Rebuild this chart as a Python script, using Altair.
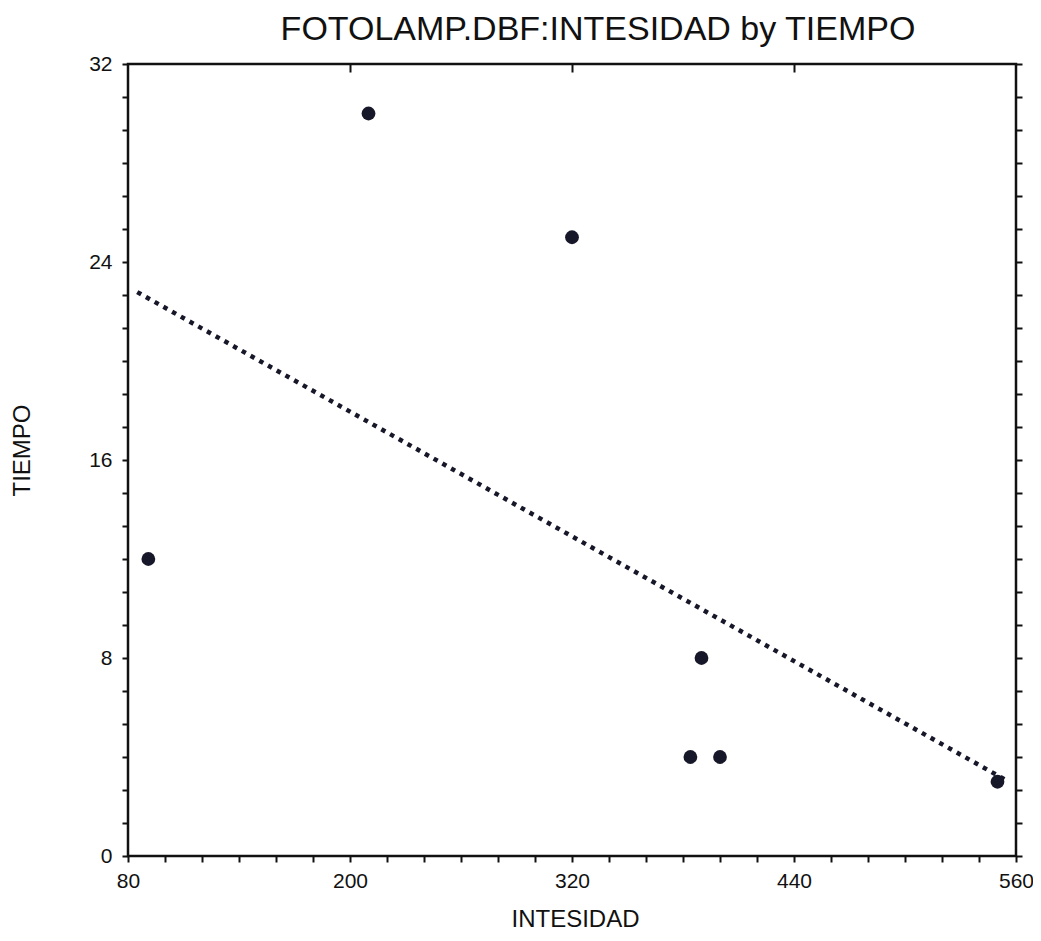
import altair as alt
import pandas as pd

# Data
intensidad = [91, 210, 320, 390, 384, 400, 550]
tiempo = [12, 30, 25, 8, 4, 4, 3]

# Axis ticks
x_ticks = list(range(80, 561, 20))          # minor every 20, labels every 120
y_ticks = [8 * i / 6 for i in range(25)]    # minor every 4/3, labels every 8
top_ticks = [200, 320, 440]

df = pd.DataFrame({"INTESIDAD": intensidad, "TIEMPO": tiempo})

FONT = "Liberation Sans, Arial, sans-serif"
INK = "#111111"
DOT = "#17172a"

xscale = alt.Scale(domain=[80, 560], nice=False, zero=False)
yscale = alt.Scale(domain=[0, 32], nice=False, zero=False)

points = alt.Chart(df).mark_point(
    filled=True, shape="circle", size=190, color=DOT, opacity=1
).encode(
    x=alt.X(
        "INTESIDAD:Q", scale=xscale,
        axis=alt.Axis(
            orient="bottom", values=x_ticks,
            labelExpr="(datum.value - 80) % 120 == 0 ? datum.label : ''",
            format="d", labelFlush=False, labelOverlap=False,
            domain=False, ticks=True, tickSize=6, tickWidth=2, tickColor=INK,
            labelFont=FONT, labelFontSize=21, labelColor=INK, labelPadding=8,
            title="INTESIDAD", titleFont=FONT, titleFontSize=24,
            titleFontWeight="normal", titleColor=INK,
            titleX=447, titleY=63, titleAlign="center", titleBaseline="middle",
            grid=False,
        ),
    ),
    y=alt.Y(
        "TIEMPO:Q", scale=yscale,
        axis=alt.Axis(
            orient="left", values=y_ticks,
            labelExpr="abs(datum.value / 8 - round(datum.value / 8)) < 0.001 ? format(datum.value, 'd') : ''",
            labelFlush=False, labelOverlap=False,
            domain=False, ticks=True, tickSize=6, tickWidth=2, tickColor=INK,
            labelFont=FONT, labelFontSize=21, labelColor=INK, labelPadding=10,
            title="TIEMPO", titleFont=FONT, titleFontSize=24,
            titleFontWeight="normal", titleColor=INK,
            titleX=-106, titleY=386, titleAngle=270,
            titleAlign="center", titleBaseline="middle",
            grid=False,
        ),
    ),
)

fit = alt.Chart(df).transform_regression(
    "INTESIDAD", "TIEMPO", method="linear", extent=[85, 556]
).mark_line(
    color=DOT, strokeWidth=4.5, strokeDash=[4.5, 5.5]
).encode(
    x=alt.X(
        "INTESIDAD:Q", scale=xscale,
        axis=alt.Axis(
            orient="top", values=top_ticks, labels=False, domain=False,
            ticks=True, tickSize=8, tickWidth=2, tickColor=INK, offset=-8,
            title=None, grid=False,
        ),
    ),
    y=alt.Y(
        "TIEMPO:Q", scale=yscale,
        axis=alt.Axis(
            orient="right", values=y_ticks, labels=False, domain=False,
            ticks=True, tickSize=6, tickWidth=2, tickColor=INK,
            title=None, grid=False,
        ),
    ),
)

chart = alt.layer(fit, points).resolve_axis(
    x="independent", y="independent"
).properties(
    width=888,
    height=792,
    autosize=alt.AutoSizeParams(type="none"),
    padding={"left": 120, "top": 56, "right": 17, "bottom": 76},
    background="white",
    title=alt.TitleParams(
        "FOTOLAMP.DBF:INTESIDAD by TIEMPO",
        font=FONT, fontSize=34, fontWeight="normal", color=INK,
        anchor="middle", dx=26, offset=12, baseline="alphabetic", dy=33,
    ),
).configure_view(
    stroke=INK, strokeWidth=2.5
)

chart.save("out.html", embed_options={"renderer": "svg", "actions": False})
